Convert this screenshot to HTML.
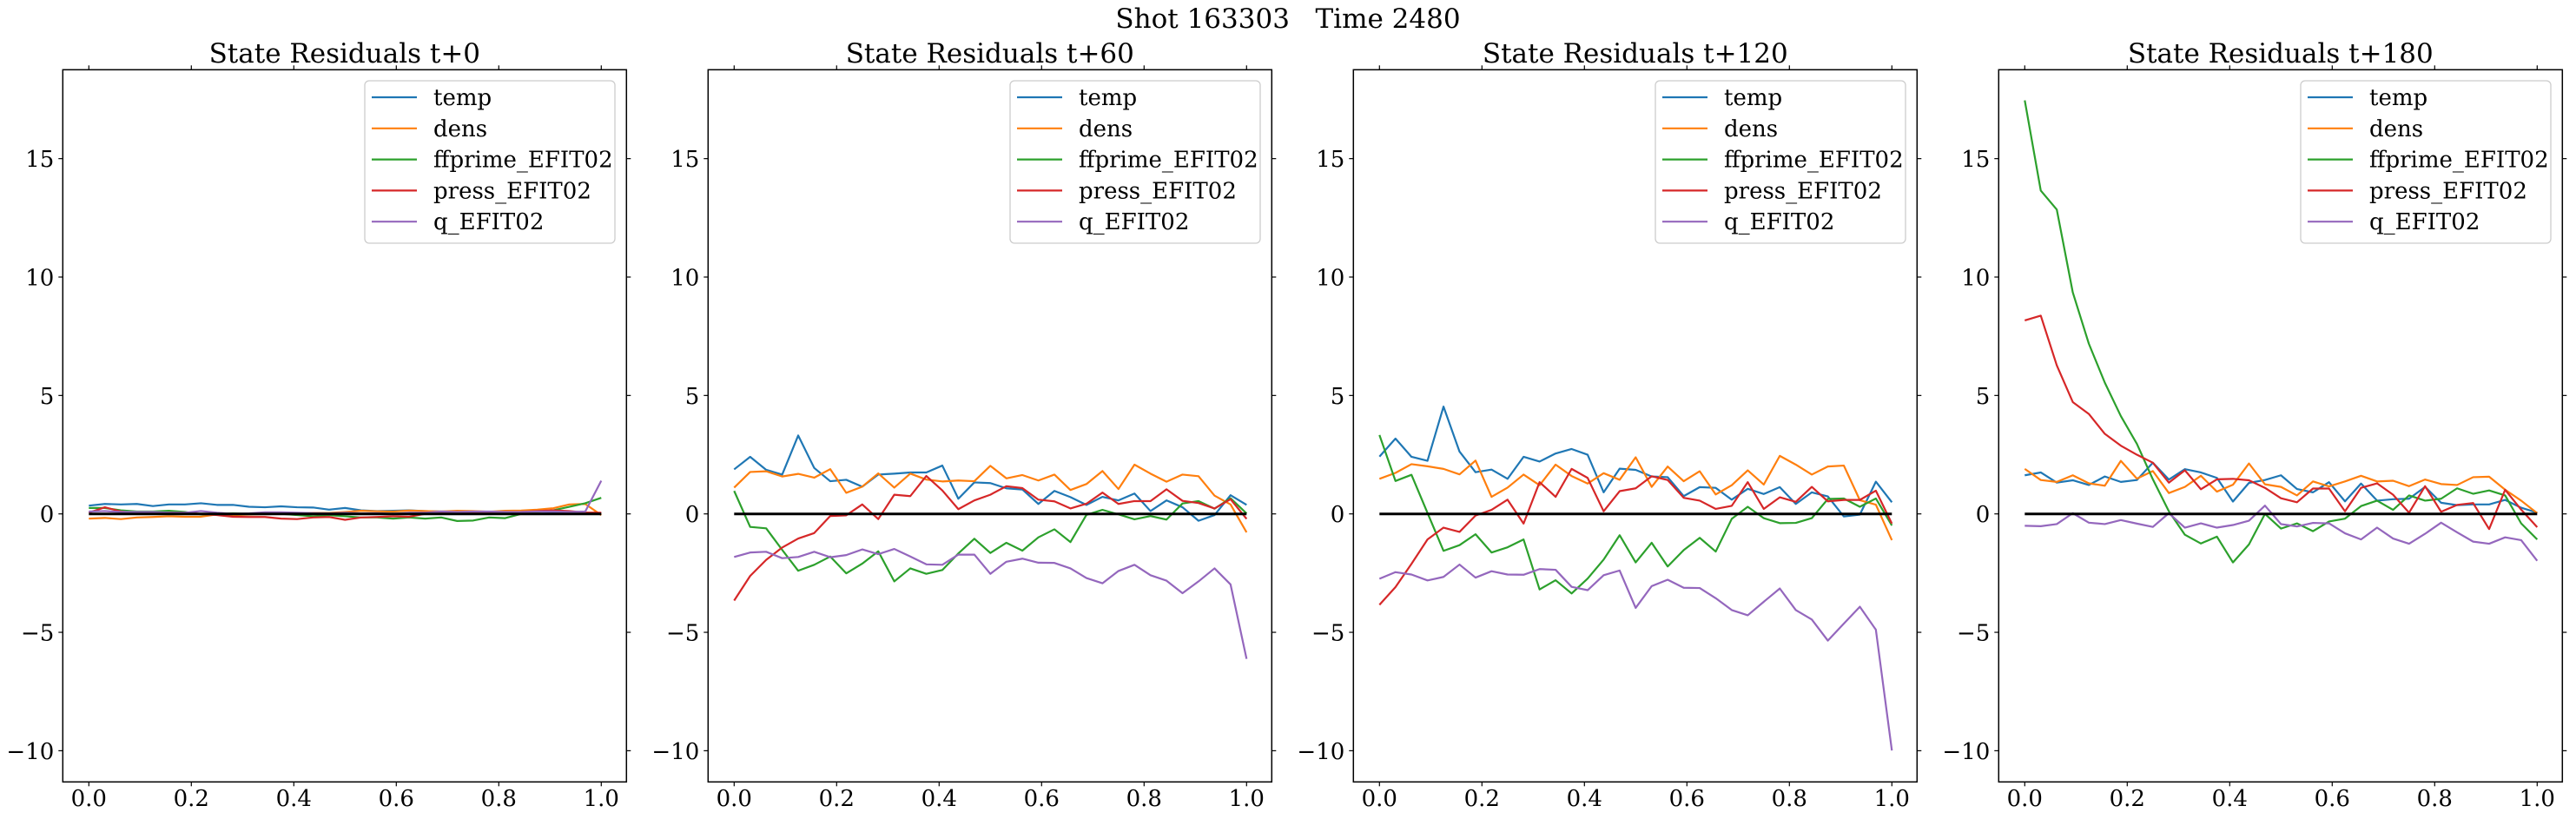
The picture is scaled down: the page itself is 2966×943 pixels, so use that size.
<!DOCTYPE html>
<html><head><meta charset="utf-8">
<style>
html,body{margin:0;padding:0;background:#fff;}
svg{display:block;}
text{font-family:"DejaVu Serif","Liberation Serif",serif;fill:#000;}
</style></head>
<body>
<svg id="fig" width="2966" height="943" viewBox="0 0 2966 943" xmlns="http://www.w3.org/2000/svg">
<text x="1483" y="32" font-size="31" text-anchor="middle" xml:space="preserve">Shot 163303   Time 2480</text>
</svg>
<script>
const panelTitles = ["State Residuals t+0","State Residuals t+60","State Residuals t+120","State Residuals t+180"];
const seriesNames = ["temp","dens","ffprime_EFIT02","press_EFIT02","q_EFIT02"];
const seriesColors = ["#1f77b4","#ff7f0e","#2ca02c","#d62728","#9467bd"];
const xTicks = [0.0,0.2,0.4,0.6,0.8,1.0];
const xTickLabels = ["0.0","0.2","0.4","0.6","0.8","1.0"];
const yTicks = [-10,-5,0,5,10,15];
const yTickLabels = ["\u221210","\u22125","0","5","10","15"];

const p0_temp = [0.35,0.42,0.40,0.42,0.33,0.40,0.40,0.45,0.38,0.38,0.30,0.28,0.32,0.28,0.27,0.18,0.25,0.15,0.12,0.13,0.15,0.12,0.10,0.10,0.10,0.08,0.10,0.10,0.10,0.08,0.05,0.05,0.02];
const p0_dens = [-0.20,-0.17,-0.22,-0.15,-0.13,-0.10,-0.12,-0.12,-0.02,-0.05,-0.03,-0.01,0.0,0.02,0.04,0.04,0.08,0.13,0.11,0.10,0.14,0.12,0.10,0.13,0.12,0.09,0.13,0.14,0.18,0.24,0.40,0.42,-0.05];
const p0_ff = [0.25,0.25,0.15,0.10,0.10,0.13,0.08,-0.02,0.0,0.02,0.0,0.0,0.0,-0.05,-0.10,-0.05,-0.10,-0.15,-0.15,-0.20,-0.15,-0.20,-0.15,-0.30,-0.28,-0.15,-0.18,0.0,0.08,0.15,0.30,0.45,0.68];
const p0_press = [0.05,0.28,0.10,0.03,0.02,0.05,0.05,0.0,-0.05,-0.12,-0.13,-0.13,-0.20,-0.22,-0.15,-0.13,-0.25,-0.15,-0.13,-0.10,-0.12,0.0,0.05,0.05,0.05,0.05,0.07,0.08,0.12,0.15,0.12,0.06,0.05];
const p0_q = [0.10,0.12,0.08,0.08,0.08,0.05,0.05,0.12,0.05,0.0,0.02,0.07,0.07,0.05,0.03,0.02,0.05,0.02,0.03,0.0,0.05,0.05,0.10,0.08,0.10,0.10,0.08,0.08,0.10,0.10,0.08,0.10,1.40];

const p1_temp = [1.88,2.41,1.86,1.66,3.31,1.94,1.38,1.44,1.15,1.66,1.70,1.75,1.75,2.04,0.64,1.33,1.30,1.08,1.03,0.42,0.97,0.71,0.38,0.72,0.57,0.86,0.12,0.57,0.28,-0.29,-0.05,0.79,0.38];
const p1_dens = [1.11,1.77,1.80,1.58,1.69,1.53,1.89,0.89,1.15,1.71,1.11,1.70,1.45,1.37,1.41,1.38,2.03,1.50,1.64,1.41,1.66,1.01,1.26,1.81,1.05,2.08,1.70,1.36,1.66,1.59,0.77,0.40,-0.78];
const p1_ff = [0.97,-0.55,-0.61,-1.52,-2.40,-2.15,-1.80,-2.51,-2.10,-1.58,-2.85,-2.30,-2.53,-2.37,-1.67,-1.05,-1.65,-1.22,-1.55,-0.99,-0.65,-1.19,-0.04,0.17,-0.02,-0.23,-0.09,-0.24,0.44,0.54,0.22,0.66,0.02];
const p1_press = [-3.66,-2.62,-1.94,-1.42,-1.04,-0.81,-0.09,-0.06,0.40,-0.22,0.81,0.75,1.60,0.99,0.20,0.57,0.81,1.17,1.09,0.60,0.53,0.23,0.43,0.90,0.42,0.54,0.54,1.04,0.55,0.46,0.23,0.62,-0.21];
const p1_q = [-1.82,-1.63,-1.60,-1.87,-1.82,-1.60,-1.83,-1.74,-1.50,-1.70,-1.48,-1.80,-2.13,-2.15,-1.72,-1.72,-2.53,-2.02,-1.89,-2.06,-2.07,-2.30,-2.71,-2.93,-2.41,-2.15,-2.59,-2.82,-3.35,-2.85,-2.30,-2.98,-6.12];

const p2_temp = [2.42,3.18,2.41,2.24,4.53,2.63,1.76,1.87,1.48,2.41,2.21,2.55,2.74,2.50,0.91,1.91,1.86,1.58,1.55,0.75,1.13,1.10,0.60,1.06,0.84,1.13,0.42,0.91,0.74,-0.11,-0.03,1.36,0.49];
const p2_dens = [1.48,1.73,2.10,2.01,1.90,1.67,2.25,0.72,1.11,1.66,1.21,2.08,1.60,1.28,1.72,1.44,2.39,1.14,2.00,1.38,1.80,0.82,1.21,1.84,1.24,2.45,2.08,1.66,2.00,2.04,0.58,0.39,-1.11];
const p2_ff = [3.33,1.39,1.65,0.04,-1.56,-1.32,-0.86,-1.63,-1.41,-1.08,-3.19,-2.80,-3.36,-2.73,-1.93,-0.90,-2.05,-1.22,-2.22,-1.53,-1.01,-1.59,-0.21,0.30,-0.18,-0.39,-0.38,-0.18,0.63,0.65,0.30,0.65,-0.49];
const p2_press = [-3.84,-3.09,-2.11,-1.08,-0.58,-0.76,-0.07,0.17,0.60,-0.41,1.34,0.72,1.90,1.52,0.11,0.96,1.08,1.59,1.43,0.68,0.56,0.21,0.34,1.34,0.21,0.70,0.51,1.14,0.53,0.59,0.59,0.98,-0.41];
const p2_q = [-2.74,-2.46,-2.56,-2.81,-2.66,-2.14,-2.69,-2.42,-2.56,-2.57,-2.33,-2.36,-3.08,-3.22,-2.59,-2.39,-3.97,-3.05,-2.78,-3.12,-3.13,-3.56,-4.06,-4.28,-3.71,-3.15,-4.06,-4.46,-5.35,-4.63,-3.92,-4.89,-9.99];

const p3_temp = [1.63,1.75,1.32,1.42,1.22,1.58,1.35,1.43,2.16,1.45,1.89,1.75,1.52,0.52,1.31,1.43,1.63,1.05,0.91,1.34,0.53,1.28,0.56,0.62,0.64,1.14,0.47,0.37,0.40,0.40,0.59,0.26,0.05];
const p3_dens = [1.90,1.43,1.35,1.63,1.29,1.19,2.24,1.49,1.81,0.88,1.14,1.61,0.94,1.23,2.13,1.25,1.14,0.78,1.37,1.16,1.37,1.61,1.37,1.40,1.17,1.45,1.26,1.22,1.55,1.57,1.02,0.56,0.03];
const p3_ff = [17.46,13.65,12.85,9.35,7.19,5.54,4.13,2.96,1.46,0.11,-0.88,-1.25,-0.96,-2.05,-1.29,0.0,-0.62,-0.40,-0.73,-0.32,-0.20,0.33,0.56,0.17,0.78,0.56,0.64,1.08,0.85,0.99,0.78,-0.40,-1.08];
const p3_press = [8.17,8.37,6.27,4.72,4.22,3.38,2.88,2.50,2.16,1.32,1.84,1.04,1.46,1.48,1.42,1.10,0.66,0.49,1.07,1.07,0.11,1.10,1.29,0.81,0.05,1.17,0.09,0.38,0.46,-0.64,1.02,0.18,-0.56];
const p3_q = [-0.50,-0.52,-0.43,0.03,-0.37,-0.43,-0.26,-0.41,-0.55,0.03,-0.58,-0.40,-0.58,-0.47,-0.29,0.35,-0.43,-0.53,-0.38,-0.40,-0.82,-1.08,-0.58,-1.04,-1.26,-0.84,-0.37,-0.78,-1.17,-1.26,-0.99,-1.11,-1.98];

const panels = [
  [p0_temp,p0_dens,p0_ff,p0_press,p0_q],
  [p1_temp,p1_dens,p1_ff,p1_press,p1_q],
  [p2_temp,p2_dens,p2_ff,p2_press,p2_q],
  [p3_temp,p3_dens,p3_ff,p3_press,p3_q]
];

const NS = "http://www.w3.org/2000/svg";
const svg = document.getElementById('fig');
const AX = {left:72.3,right:721.3,top:80.3,bottom:900.3,x0:102.3,x1:692.3,yZero:591.7,yUnit:27.27};
const PANEL_OFFSET = 743;
function mk(tag, attrs, parent){ const e=document.createElementNS(NS,tag); for(const k in attrs) e.setAttribute(k,attrs[k]); (parent||svg).appendChild(e); return e; }

panels.forEach((series, p) => {
  const off = p*PANEL_OFFSET;
  const xs = v => off + AX.x0 + v*(AX.x1-AX.x0);
  const ys = v => AX.yZero - v*AX.yUnit;
  const g = mk('g',{});
  
  

  const clipId = 'clip'+p;
  const cp = mk('clipPath',{id:clipId}, g);
  mk('rect',{x:off+AX.left,y:AX.top,width:AX.right-AX.left,height:AX.bottom-AX.top}, cp);

  // title
  const t = mk('text',{x:off+(AX.left+AX.right)/2,y:72,'font-size':31,'text-anchor':'middle'}, g);
  
  
  t.textContent = panelTitles[p];

  // ticks
  xTicks.forEach((v,i) => {
    const x = xs(v);
    mk('line',{x1:x,y1:AX.bottom,x2:x,y2:AX.bottom+5,stroke:'#000','stroke-width':1.2}, g);
    mk('line',{x1:x,y1:AX.top,x2:x,y2:AX.top-5,stroke:'#000','stroke-width':1.2}, g);
    const tl = mk('text',{x:x,y:928,'font-size':26,'text-anchor':'middle'}, g);
    
    
    tl.textContent = xTickLabels[i];
  });
  yTicks.forEach((v,i) => {
    const y = ys(v);
    mk('line',{x1:off+AX.left,y1:y,x2:off+AX.left-5,y2:y,stroke:'#000','stroke-width':1.2}, g);
    mk('line',{x1:off+AX.right,y1:y,x2:off+AX.right+5,y2:y,stroke:'#000','stroke-width':1.2}, g);
    const tl = mk('text',{x:off+AX.left-10,y:y+9.5,'font-size':26,'text-anchor':'end'}, g);
    
    
    tl.textContent = yTickLabels[i];
  });

  // series lines
  series.forEach((vals, s) => {
    const n = vals.length;
    const pts = vals.map((v,i) => xs(i/(n-1)).toFixed(2)+','+ys(v).toFixed(2)).join(' ');
    const pl = mk('polyline',{points:pts,fill:'none',stroke:seriesColors[s],'stroke-width':2.2,'stroke-linejoin':'round','clip-path':'url(#'+clipId+')'}, g);
    
    
  });

  // zero reference line
  const zl = mk('line',{x1:xs(0),y1:ys(0),x2:xs(1),y2:ys(0),stroke:'#000','stroke-width':3}, g);
  
  

  // frame
  const fr = mk('rect',{x:off+AX.left,y:AX.top,width:AX.right-AX.left,height:AX.bottom-AX.top,fill:'none',stroke:'#000','stroke-width':1.5}, g);
  
  

  // legend
  const lg = mk('g',{}, g);
  
  
  mk('rect',{x:off+420,y:93,width:288,height:187,rx:5,fill:'#fff','fill-opacity':0.8,stroke:'#ccc','stroke-width':1.3}, lg);
  seriesNames.forEach((name, s) => {
    const yy = 112 + s*35.8;
    const le = mk('g',{}, lg);
    
    
    mk('line',{x1:off+428,y1:yy,x2:off+480,y2:yy,stroke:seriesColors[s],'stroke-width':2.2}, le);
    const lt = mk('text',{x:off+499,y:yy+9,'font-size':26}, le);
    lt.textContent = name;
  });
});
</script>
</body></html>
